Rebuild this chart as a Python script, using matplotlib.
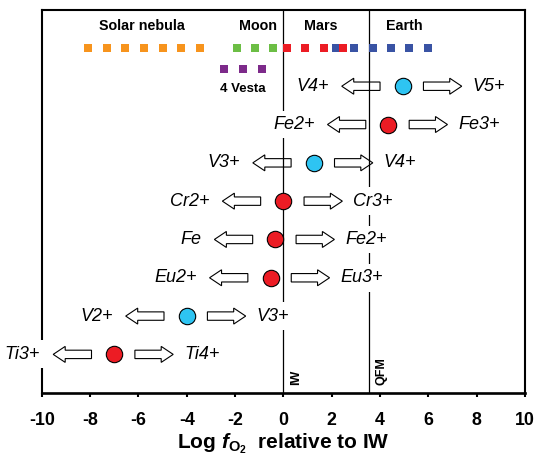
import matplotlib
matplotlib.use('Agg')
import matplotlib.pyplot as plt
from matplotlib.patches import Polygon
from matplotlib.transforms import Affine2D, ScaledTranslation

# ---------------- data ----------------
couple_left = ['Ti3+', 'V2+', 'Eu2+', 'Fe', 'Cr2+', 'V3+', 'Fe2+', 'V4+']
couple_right = ['Ti4+', 'V3+', 'Eu3+', 'Fe2+', 'Cr3+', 'V4+', 'Fe3+', 'V5+']
couple_fo2 = [-7.0, -4.0, -0.53, -0.33, 0.0, 1.26, 4.35, 4.94]
couple_row = [1, 2, 3, 4, 5, 6, 7, 8]
couple_kind = ['red', 'cyan', 'red', 'red', 'red', 'cyan', 'red', 'cyan']

solar_nebula_x = [-8.07, -7.31, -6.54, -5.77, -5.00, -4.23, -3.45]
moon_x = [-1.93, -1.17, -0.42]
earth_x = [2.17, 2.92, 3.69, 4.45, 5.20, 6.00]
mars_x = [0.15, 0.91, 1.70, 2.45]
vesta_x = [-2.45, -1.69, -0.90]

region_labels = ['Solar nebula', 'Moon', 'Mars', 'Earth']
region_label_x = [-5.85, -1.05, 1.56, 4.99]

buffer_names = ['IW', 'QFM']
buffer_x = [0.0, 3.54]

xticks = [-10, -8, -6, -4, -2, 0, 2, 4, 6, 8, 10]

# ---------------- style ----------------
plt.rcParams['font.family'] = ['Liberation Sans', 'DejaVu Sans']
plt.rcParams['mathtext.fontset'] = 'custom'
plt.rcParams['mathtext.rm'] = 'Liberation Sans:bold'
plt.rcParams['mathtext.bf'] = 'Liberation Sans:bold'
plt.rcParams['mathtext.it'] = 'Liberation Sans:italic:bold'

colors = {'red': '#EC1C24', 'cyan': '#2EC4F2'}
sq_colors = {'solar': '#F7941D', 'moon': '#6CBE45', 'mars': '#EC1C24',
             'earth': '#3953A4', 'vesta': '#7D2A8A'}

fig = plt.figure(figsize=(5.36, 4.57), dpi=100)
ax = fig.add_axes([0.0778, 0.1407, 0.9795 - 0.0778, 0.979 - 0.1407])
ax.set_xlim(-10, 10)
ax.set_ylim(0, 10)

for s in ['left', 'right', 'top']:
    ax.spines[s].set_linewidth(1.5)
ax.spines['bottom'].set_linewidth(1.9)
ax.set_yticks([])
ax.set_xticks(xticks)
ax.set_xticklabels([str(t) for t in xticks])
ax.tick_params(axis='x', direction='out', length=3.2, width=1.5, pad=11,
               labelsize=12.8)
for lab in ax.get_xticklabels():
    lab.set_fontweight('bold')
ax.set_xlabel(r'Log $\mathit{f}_{\mathrm{O_2}}$  relative to IW',
              fontsize=15, fontweight='bold', labelpad=1.5)

# buffer lines
for name, bx in zip(buffer_names, buffer_x):
    ax.axvline(bx, color='black', lw=0.9, zorder=2)
    ax.annotate(name, xy=(bx, 0.2), xytext=(9, 0), textcoords='offset points',
                rotation=90, ha='center', va='bottom', fontsize=9,
                fontweight='bold', zorder=3)

# planetary ranges
msq = 6.2
ax.plot(solar_nebula_x, [9] * len(solar_nebula_x), 's', ms=msq, mew=0,
        color=sq_colors['solar'], zorder=4)
ax.plot(moon_x, [9] * len(moon_x), 's', ms=msq, mew=0,
        color=sq_colors['moon'], zorder=4)
ax.plot(earth_x, [9] * len(earth_x), 's', ms=msq, mew=0,
        color=sq_colors['earth'], zorder=4)
ax.plot(mars_x, [9] * len(mars_x), 's', ms=msq, mew=0,
        color=sq_colors['mars'], zorder=4.1)
ax.plot(vesta_x, [8.45] * len(vesta_x), 's', ms=5.8, mew=0,
        color=sq_colors['vesta'], zorder=4)

for lab, lx in zip(region_labels, region_label_x):
    ax.text(lx, 9.58, lab, ha='center', va='center', fontsize=10.3,
            fontweight='bold', zorder=3)
ax.text(-1.66, 7.94, '4 Vesta', ha='center', va='center', fontsize=9.5,
        fontweight='bold', zorder=3)


# block arrows (pixel geometry relative to the circle)
def arrow_verts(a, b, h1=4.2, h2=8.0, L=12.0):
    s = 1 if b > a else -1
    hb = b - s * L
    return [(a, -h1), (hb, -h1), (hb, -h2), (b, 0), (hb, h2), (hb, h1), (a, h1)]


for cx, cy in zip(couple_fo2, couple_row):
    trans = (Affine2D().scale(1 / 100.0) + fig.dpi_scale_trans +
             ScaledTranslation(cx, cy, ax.transData))
    for a, b in [(-22.7, -61.0), (20.7, 59.0)]:
        p = Polygon(arrow_verts(a, b), closed=True, facecolor='white',
                    edgecolor='black', lw=0.8, transform=trans, zorder=1.5)
        ax.add_patch(p)

bbox = dict(facecolor='white', edgecolor='none', boxstyle='square,pad=0.3')
for l, r, cx, cy, k in zip(couple_left, couple_right, couple_fo2, couple_row,
                           couple_kind):
    ax.plot(cx, cy, 'o', ms=11.8, mfc=colors[k], mec='black', mew=0.8,
            zorder=5)
    ax.annotate(l, xy=(cx, cy), xytext=(-53.3, 0), textcoords='offset points',
                ha='right', va='center', fontsize=13, style='italic',
                bbox=bbox, zorder=3, annotation_clip=False)
    ax.annotate(r, xy=(cx, cy), xytext=(50.4, 0), textcoords='offset points',
                ha='left', va='center', fontsize=13, style='italic',
                bbox=bbox, zorder=3, annotation_clip=False)

fig.savefig('out.png', dpi=100)
